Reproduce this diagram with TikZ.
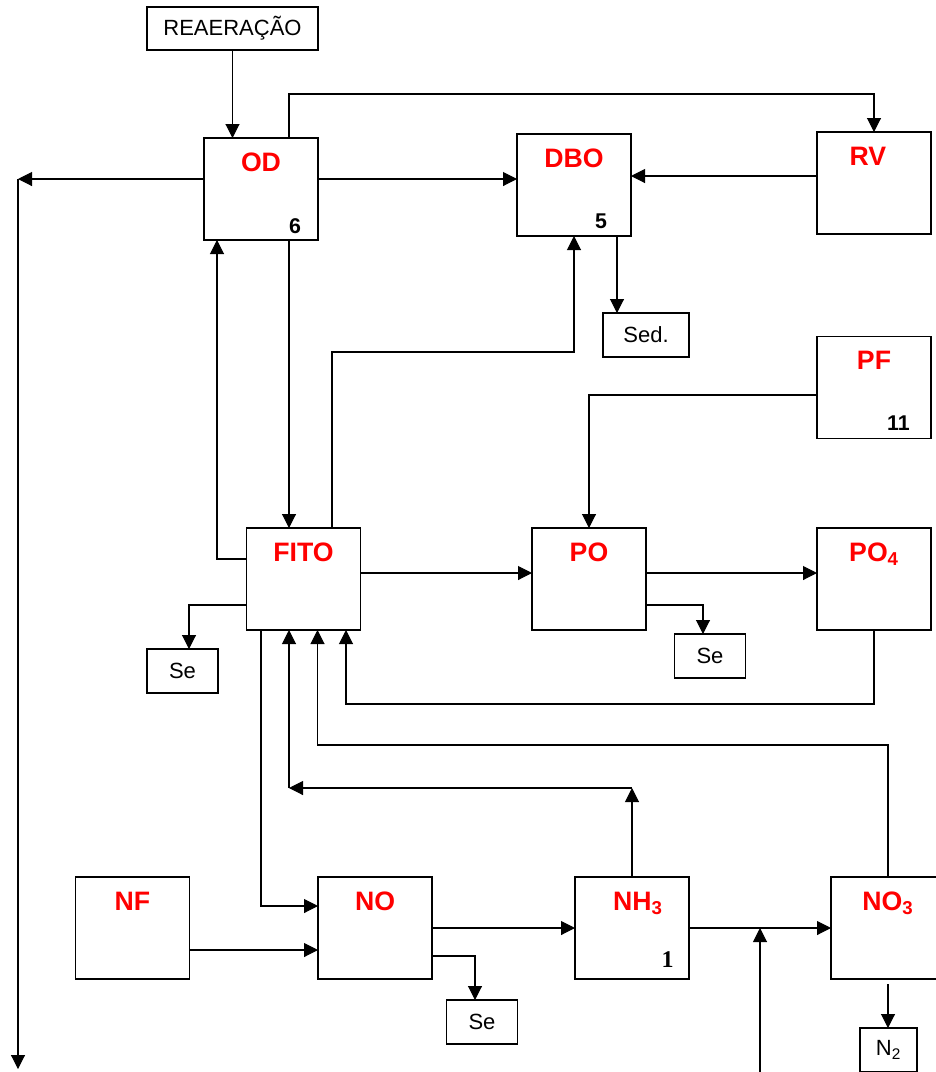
\documentclass[tikz,border=0pt]{standalone}
\usepackage{fontspec}
\setmainfont{Liberation Sans}
\newfontfamily\serifNum{Liberation Serif}
\usetikzlibrary{calc,arrows.meta,positioning}

\begin{document}
\begin{tikzpicture}[x=0.75pt, y=-0.75pt,
    every node/.style={font=\fontsize{16.5}{19}\selectfont},
    bigBox/.style={draw, line width=0.8pt, inner sep=0pt, outer sep=0pt, minimum width=85.5pt, minimum height=76.5pt},
    smallBox/.style={draw, line width=0.8pt, inner sep=0pt, outer sep=0pt, minimum width=53.25pt, minimum height=33pt},
    boxName/.style={red, inner sep=0pt, font=\fontsize{20}{24}\selectfont\bfseries},
    boxNum/.style={inner sep=0pt, font=\fontsize{16}{19}\selectfont\bfseries},
    flowArrow/.style={-{Triangle[length=10.5pt, width=10.5pt]}, line width=0.8pt}]

\useasboundingbox (0,0) rectangle (936,1072);

% Upper row
\node[smallBox, minimum width=128.25pt, minimum height=32.25pt] (rea) at (232.5,28.5) {REAERAÇÃO};
\node[bigBox] (od) at (261,189) {};
\node[bigBox] (dbo) at (574,185) {};
\node[bigBox] (rv) at (874,183) {};
\node[smallBox, minimum width=64.5pt] (sed) at (646,335) {Sed.};
\node[bigBox] (pf) at (874,387.5) {};

% Middle row
\node[bigBox] (fito) at (303.5,579) {};
\node[bigBox] (po) at (589,579) {};
\node[bigBox] (po4) at (874,579) {};
\node[smallBox] (seFito) at (182.5,671) {Se};
\node[smallBox] (sePo) at (710,656) {Se};

% Lower row
\node[bigBox] (nf) at (132.5,928) {};
\node[bigBox] (no) at (375,928) {};
\node[bigBox] (nh3) at (632,928) {};
\node[bigBox] (no3) at (888,928) {};
\node[smallBox] (seNo) at (482,1022) {Se};
\node[smallBox, minimum width=42.75pt] (n2) at (888.5,1050) {N\textsubscript{2}};

% Box names
\node[boxName, below=11pt of od.north] (odName) {OD};
\node[boxName, below=11pt of dbo.north] (dboName) {DBO};
\node[boxName, below=11pt of rv.north, xshift=-4.5pt] (rvName) {RV};
\node[boxName, below=11pt of pf.north] (pfName) {PF};
\node[boxName, below=11pt of fito.north] (fitoName) {FITO};
\node[boxName, below=11pt of po.north] (poName) {PO};
\node[boxName, below=11pt of po4.north] (po4Name) {PO\textsubscript{4}};
\node[boxName, below=11pt of nf.north] (nfName) {NF};
\node[boxName, below=11pt of no.north] (noName) {NO};
\node[boxName, below=11pt of nh3.north, xshift=4.5pt] (nh3Name) {NH\textsubscript{3}};
\node[boxName, below=11pt of no3.north] (no3Name) {NO\textsubscript{3}};

% Numbers in the corners
\node[boxNum] (odNum) at (295,226) {6};
\node[boxNum] (dboNum) at (601,221) {5};
\node[boxNum] (pfNum) at (898.5,423.5) {11};
\node[boxNum, font=\serifNum\fontsize{18}{20}\selectfont\bfseries] (nh3Num) at (667.5,960) {1};

% Oxygen links
\coordinate (outCorner) at (18,179);
\coordinate (outEnd) at (18,1069);
\draw[flowArrow] (rea.south) -- (rea.south |- od.north);
\draw[flowArrow] ($(od.north)+(28,0)$) |- ($(rv.north)+(0,-38)$) -- (rv.north);
\draw[flowArrow] ($(od.east)+(0,-10)$) coordinate (odRight) -- (odRight -| dbo.west);
\draw[flowArrow] ($(od.west)+(0,-10)$) -- (outCorner);
\draw[flowArrow] (outCorner) -- (outEnd);
\draw[flowArrow] ($(rv.west)+(0,-7)$) coordinate (rvLeft) -- (rvLeft -| dbo.east);
\draw[flowArrow] ($(dbo.south)+(43,0)$) coordinate (dboDown) -- (dboDown |- sed.north);

% Phytoplankton links
\draw[flowArrow] ($(od.south)+(28,0)$) coordinate (odDown) -- (odDown |- fito.north);
\draw[flowArrow] ($(fito.west)+(0,-20)$) -| ($(od.south)+(-44,0)$);
\draw[flowArrow] ($(fito.north)+(28.5,0)$) |- ($(dbo.south)+(0,116)$) -- (dbo.south);
\draw[flowArrow] ($(fito.west)+(0,26)$) -| ($(seFito.north)+(6.5,0)$);
\draw[flowArrow] ($(fito.east)+(0,-6)$) coordinate (fitoRight) -- (fitoRight -| po.west);

% Phosphorus links
\draw[flowArrow] ($(pf.west)+(0,7.5)$) -| (po.north);
\draw[flowArrow] ($(po.east)+(0,-6)$) coordinate (poRight) -- (poRight -| po4.west);
\draw[flowArrow] ($(po.east)+(0,26)$) -| ($(sePo.north)+(-7,0)$);
\draw[flowArrow] (po4.south) |- ($(fito.south)+(42.5,74)$) -- ($(fito.south)+(42.5,0)$);

% Nitrogen links
\draw[flowArrow] (no3.north) |- ($(fito.south)+(14,115)$) -- ($(fito.south)+(14,0)$);
\draw[flowArrow] (nh3.north) -- ($(nh3.north)+(0,-89)$) coordinate (nh3Up);
\draw[flowArrow] (nh3Up) -- ($(fito.south)+(-14.5,158)$) coordinate (nh3Turn);
\draw[flowArrow] (nh3Turn) -- (nh3Turn |- fito.south);
\draw[flowArrow] ($(fito.south)+(-42.5,0)$) |- ($(no.west)+(0,-22)$);
\draw[flowArrow] ($(nf.east)+(0,22)$) coordinate (nfRight) -- (nfRight -| no.west);
\draw[flowArrow] (no.east) -- (nh3.west);
\draw[flowArrow] ($(no.east)+(0,28)$) -| ($(seNo.north)+(-7,0)$);
\draw[flowArrow] (nh3.east) -- (no3.west);
\coordinate (extIn) at (760,1075);
\draw[flowArrow] (extIn) -- (extIn |- nh3.east);
\draw[flowArrow] ($(no3.south)+(0,5)$) -- ($(n2.north)+(-0.5,0)$);

\end{tikzpicture}
\end{document}
